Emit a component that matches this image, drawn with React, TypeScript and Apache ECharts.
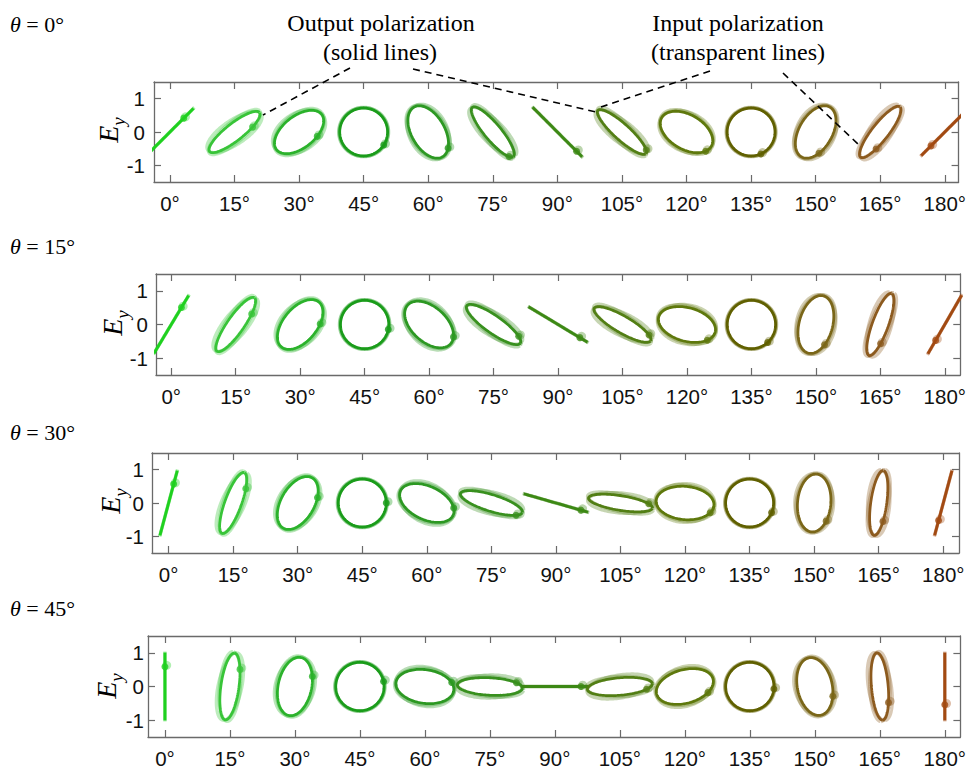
import React, { useEffect, useRef } from "react";
import * as echarts from "echarts";

// x positions (deg) of the ellipses and tick labels
const angles = [0, 15, 30, 45, 60, 75, 90, 105, 120, 135, 150, 165, 180];
const yTicks = [-1, 0, 1];
const thetaTitles = ["0°", "15°", "30°", "45°"];
const colors = [
  "#1fd01f", "#38c438", "#2bb22b", "#1a9c1a", "#2c9822", "#38901e", "#3c8814",
  "#527e14", "#5e780c", "#606000", "#7a6618", "#8c5a1e", "#a24a12",
];

// Output (solid) ellipses: tilt (deg), semi-major, semi-minor; one row per θ panel
const outTilt = [
  [45, 38, 38, 0, -60, -50, -45, -42, -30, 0, 60, 52, 45],
  [59, 55, 50, 0, -42, -35, -31, -30, -15, 0, 75, 70, 60],
  [75, 70, 60, 0, -25, -17, -16, -9, -5, 0, 85, 82, 75],
  [90, 82, 78, 0, -8, -3, 0, 5, 15, 0, -78, -85, 90],
];
const outMajor = [
  [1.0, 0.95, 0.86, 0.72, 0.86, 0.96, 1.05, 0.97, 0.86, 0.72, 0.86, 0.96, 1.0],
  [1.0, 0.97, 0.87, 0.72, 0.86, 0.97, 1.02, 0.97, 0.87, 0.72, 0.88, 0.98, 1.0],
  [1.0, 0.97, 0.87, 0.72, 0.87, 0.97, 1.0, 0.97, 0.87, 0.72, 0.87, 0.98, 1.0],
  [1.0, 1.0, 0.88, 0.72, 0.87, 0.97, 1.0, 0.97, 0.87, 0.72, 0.87, 1.0, 1.0],
];
const outMinor = [
  [0, 0.26, 0.48, 0.72, 0.5, 0.25, 0, 0.24, 0.52, 0.72, 0.5, 0.25, 0],
  [0, 0.25, 0.5, 0.72, 0.52, 0.26, 0, 0.25, 0.5, 0.72, 0.5, 0.24, 0],
  [0, 0.25, 0.5, 0.72, 0.5, 0.25, 0, 0.22, 0.5, 0.72, 0.5, 0.24, 0],
  [0, 0.27, 0.5, 0.72, 0.5, 0.26, 0, 0.26, 0.5, 0.72, 0.52, 0.25, 0],
];
// Input (transparent) ellipses, two traces each
const inTilt = [
  [45, 34, 33, 0, -64, -46, -45, -38, -26, 0, 64, 56, 45],
  [59, 51, 46, 0, -46, -31, -31, -26, -11, 0, 79, 74, 60],
  [75, 66, 56, 0, -29, -13, -16, -5, -1, 0, 89, 86, 75],
  [90, 78, 74, 0, -12, 1, 0, 9, 19, 0, -74, -81, 90],
];
const inMinor = [
  [0, 0.36, 0.56, 0.73, 0.58, 0.33, 0, 0.32, 0.58, 0.73, 0.58, 0.33, 0],
  [0, 0.34, 0.58, 0.73, 0.6, 0.34, 0, 0.33, 0.58, 0.73, 0.58, 0.33, 0],
  [0, 0.34, 0.58, 0.73, 0.58, 0.33, 0, 0.3, 0.58, 0.73, 0.58, 0.33, 0],
  [0, 0.35, 0.58, 0.73, 0.58, 0.34, 0, 0.34, 0.58, 0.73, 0.6, 0.34, 0],
];
const inTilt2 = [
  [45, 40, 41, 0, -57, -53, -45, -45, -33, 0, 57, 49, 45],
  [59, 57, 53, 0, -39, -38, -31, -33, -18, 0, 72, 67, 60],
  [75, 72, 63, 0, -22, -20, -16, -12, -8, 0, 82, 79, 75],
  [90, 85, 81, 0, -5, -6, 0, 2, 12, 0, -81, -88, 90],
];
const inMinor2 = [
  [0, 0.3, 0.52, 0.74, 0.54, 0.29, 0, 0.28, 0.55, 0.74, 0.54, 0.29, 0],
  [0, 0.29, 0.54, 0.74, 0.56, 0.3, 0, 0.29, 0.54, 0.74, 0.54, 0.29, 0],
  [0, 0.29, 0.54, 0.74, 0.54, 0.29, 0, 0.26, 0.54, 0.74, 0.54, 0.29, 0],
  [0, 0.31, 0.54, 0.74, 0.54, 0.3, 0, 0.3, 0.54, 0.74, 0.56, 0.3, 0],
];
// Direction markers (approximate position in field units, snapped onto the curve)
const markX = [
  [0.39, 0.52, 0.6, 0.6, 0.5, 0.52, 0.55, 0.68, 0.55, 0.25, 0.05, -0.1, -0.42],
  [0.27, 0.5, 0.6, 0.66, 0.65, 0.69, 0.65, 0.72, 0.6, 0.4, 0.28, 0.02, -0.3],
  [0.17, 0.4, 0.57, 0.67, 0.69, 0.74, 0.74, 0.8, 0.66, 0.6, 0.3, 0.17, -0.25],
  [0, 0.3, 0.54, 0.67, 0.74, 0.8, 0.77, 0.75, 0.69, 0.67, 0.59, 0.32, 0],
];
const markY = [
  [0.44, 0.14, -0.2, -0.38, -0.47, -0.65, -0.6, -0.55, -0.55, -0.6, -0.6, -0.55, -0.4],
  [0.5, 0.3, 0.0, -0.15, -0.35, -0.4, -0.4, -0.36, -0.42, -0.45, -0.6, -0.6, -0.45],
  [0.57, 0.42, 0.18, 0.0, -0.17, -0.26, -0.2, -0.12, -0.21, -0.27, -0.51, -0.56, -0.51],
  [0.6, 0.5, 0.3, 0.16, 0.07, 0.17, 0, 0, -0.18, -0.08, -0.28, -0.47, -0.55],
];

// layout (pixels) of the four panels
const layout = [
  { top: 82, left: 154, right: 9, height: 100, xMin: -3.7, xMax: 183.2, yLabelMargin: 9, titleY: 25, eyX: 108, eyY: 130 },
  { top: 274, left: 156, right: 7, height: 101, xMin: -3.55, xMax: 183.6, yLabelMargin: 8, titleY: 247, eyX: 112, eyY: 323 },
  { top: 453, left: 152, right: 10, height: 100, xMin: -3.86, xMax: 183.65, yLabelMargin: 8, titleY: 433, eyX: 110, eyY: 501 },
  { top: 636, left: 148, right: 6, height: 101, xMin: -3.91, xMax: 183.6, yLabelMargin: 4, titleY: 609, eyX: 106, eyY: 686 },
];
const W = 969;
const H = 770;
const Y_MIN = -1.5;
const Y_MAX = 1.5;

const SANS = "'Liberation Sans', Arial, Helvetica, sans-serif";
const SERIF = "'Liberation Serif', 'Times New Roman', serif";

function ellipsePoints(cx: number, k: number, tiltDeg: number, a: number, b: number) {
  const pts: number[][] = [];
  const p = (tiltDeg * Math.PI) / 180;
  for (let i = 0; i <= 120; i++) {
    const t = (i * 3 * Math.PI) / 180;
    const u = a * Math.cos(t);
    const v = b * Math.sin(t);
    const X = u * Math.cos(p) - v * Math.sin(p);
    const Y = u * Math.sin(p) + v * Math.cos(p);
    pts.push([cx + k * X, Y, X]);
  }
  return pts;
}

export default function App() {
  const ref = useRef<HTMLDivElement>(null);
  useEffect(() => {
    if (!ref.current) return;
    const chart = echarts.init(ref.current, undefined, { renderer: "svg" });

    const grids: any[] = [];
    const xAxes: any[] = [];
    const yAxes: any[] = [];
    const series: any[] = [];
    const graphics: any[] = [];
    const axisColor = "#6a6a6a";

    layout.forEach((L, p) => {
      grids.push({ left: L.left, right: L.right, top: L.top, height: L.height, containLabel: false });
      const common = {
        type: "value",
        gridIndex: p,
        splitLine: { show: false },
        axisLine: { show: true, onZero: false, lineStyle: { color: axisColor, width: 1.3 } },
      };
      xAxes.push({
        ...common,
        position: "bottom",
        min: L.xMin,
        max: L.xMax,
        axisTick: { show: true, inside: true, length: 7, customValues: angles, lineStyle: { color: axisColor, width: 1.2 } },
        axisLabel: { show: true, customValues: angles, formatter: (v: number) => v + "°", color: "#111", fontSize: 20.5, fontFamily: SANS, margin: 11 },
      });
      xAxes.push({
        ...common,
        position: "top",
        min: L.xMin,
        max: L.xMax,
        axisTick: { show: true, inside: true, length: 7, customValues: angles, lineStyle: { color: axisColor, width: 1.2 } },
        axisLabel: { show: false },
      });
      yAxes.push({
        ...common,
        position: "left",
        min: Y_MIN,
        max: Y_MAX,
        axisTick: { show: true, inside: true, length: 7, customValues: yTicks, lineStyle: { color: axisColor, width: 1.2 } },
        axisLabel: { show: true, customValues: yTicks, formatter: (v: number) => String(v), color: "#111", fontSize: 20.5, fontFamily: SANS, margin: L.yLabelMargin },
      });
      yAxes.push({
        ...common,
        position: "right",
        min: Y_MIN,
        max: Y_MAX,
        axisTick: { show: true, inside: true, length: 7, customValues: yTicks, lineStyle: { color: axisColor, width: 1.2 } },
        axisLabel: { show: false },
      });

      const plotW = W - L.left - L.right;
      const pxPerUnitY = L.height / (Y_MAX - Y_MIN);
      const pxPerDeg = plotW / (L.xMax - L.xMin);
      const k = pxPerUnitY / pxPerDeg; // degrees per unit of Ex (equal aspect)

      const markers: any[] = [];
      const markersIn: any[] = [];
      angles.forEach((ang, i) => {
        const col = colors[i];
        const inPts = ellipsePoints(ang, k, inTilt[p][i], outMajor[p][i] * 1.02, inMinor[p][i]);
        const inPts2 = ellipsePoints(ang, k, inTilt2[p][i], outMajor[p][i] * 1.04, inMinor2[p][i]);
        const outPts = ellipsePoints(ang, k, outTilt[p][i], outMajor[p][i], outMinor[p][i]);
        [inPts, inPts2].forEach((pts) => {
          series.push({
            type: "line",
            xAxisIndex: 2 * p,
            yAxisIndex: 2 * p,
            data: pts.map((q) => [q[0], q[1]]),
            showSymbol: false,
            symbol: "none",
            silent: true,
            clip: true,
            z: 2,
            lineStyle: { color: col, width: 3.4, opacity: 0.33 },
          });
        });
        series.push({
          type: "line",
          xAxisIndex: 2 * p,
          yAxisIndex: 2 * p,
          data: outPts.map((q) => [q[0], q[1]]),
          showSymbol: false,
          symbol: "none",
          silent: true,
          clip: true,
          z: 3,
          lineStyle: { color: col, width: 2.8 },
        });
        // snap marker onto the solid curve
        const mx = markX[p][i];
        const my = markY[p][i];
        let best = outPts[0];
        let bd = Infinity;
        outPts.forEach((q) => {
          const d = (q[2] - mx) ** 2 + (q[1] - my) ** 2;
          if (d < bd) {
            bd = d;
            best = q;
          }
        });
        markers.push({ value: [best[0], best[1]], itemStyle: { color: col } });
        markersIn.push({ value: [best[0] + 0.4, best[1] + 0.04], itemStyle: { color: col, opacity: 0.35 } });
      });
      series.push({
        type: "scatter",
        xAxisIndex: 2 * p,
        yAxisIndex: 2 * p,
        data: markersIn,
        symbol: "circle",
        symbolSize: 9,
        silent: true,
        z: 4,
      });
      series.push({
        type: "scatter",
        xAxisIndex: 2 * p,
        yAxisIndex: 2 * p,
        data: markers,
        symbol: "circle",
        symbolSize: 7,
        silent: true,
        z: 5,
      });

      // panel title θ = ...
      graphics.push({
        type: "text",
        left: 10,
        top: L.titleY - 12,
        style: {
          text: "{i|θ} = " + thetaTitles[p],
          fontFamily: SERIF,
          fontSize: 22,
          fill: "#000",
          rich: { i: { fontStyle: "italic", fontFamily: SERIF, fontSize: 22 } },
        },
      });
      // E_y axis name
      graphics.push({
        type: "text",
        x: L.eyX,
        y: L.eyY,
        rotation: Math.PI / 2,
        style: {
          text: "{e|E}{s|y}",
          align: "center",
          verticalAlign: "middle",
          fill: "#000",
          rich: {
            e: { fontStyle: "italic", fontFamily: SERIF, fontSize: 28, verticalAlign: "bottom" },
            s: { fontStyle: "italic", fontFamily: SERIF, fontSize: 19, verticalAlign: "bottom", padding: [0, 0, -6, 0] },
          },
        },
      });
    });

    // annotations
    const annot = [
      { text: "Output polarization", x: 381, y: 23 },
      { text: "(solid lines)", x: 380, y: 52 },
      { text: "Input polarization", x: 738, y: 23 },
      { text: "(transparent lines)", x: 738, y: 52 },
    ];
    annot.forEach((a) => {
      graphics.push({
        type: "text",
        x: a.x,
        y: a.y,
        style: { text: a.text, align: "center", verticalAlign: "middle", fontFamily: SERIF, fontSize: 24, fill: "#000" },
      });
    });
    const dashed = [
      [350, 68, 263, 115],
      [413, 69, 596, 112],
      [710, 71, 601, 107],
      [783, 73, 858, 144],
    ];
    dashed.forEach((d) => {
      graphics.push({
        type: "line",
        z: 100,
        shape: { x1: d[0], y1: d[1], x2: d[2], y2: d[3] },
        style: { stroke: "#000", lineWidth: 1.6, lineDash: [7, 5] },
      });
    });

    chart.setOption({
      animation: false,
      backgroundColor: "#fff",
      grid: grids,
      xAxis: xAxes,
      yAxis: yAxes,
      series,
      graphic: graphics,
    });
    return () => chart.dispose();
  }, []);
  return <div ref={ref} style={{ position: "absolute", left: 0, top: 0, width: W, height: H }} />;
}
